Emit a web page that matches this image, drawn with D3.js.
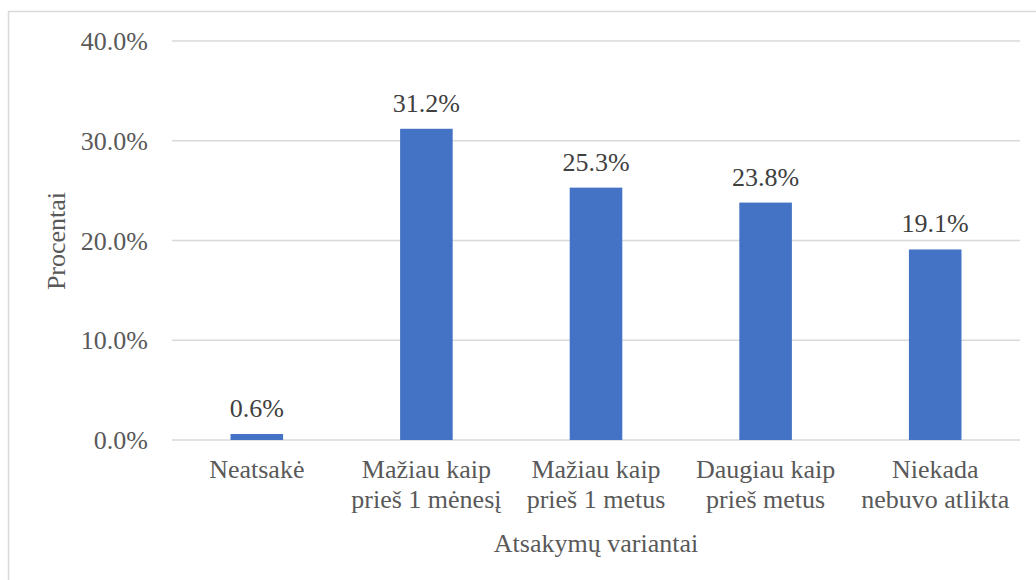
<!DOCTYPE html>
<html><head><meta charset="utf-8">
<script src="https://cdn.jsdelivr.net/npm/d3@7"></script>
<style>body{margin:0;background:#fff;}svg{display:block;}</style>
</head><body>
<svg id="c" width="1036" height="580"></svg>
<script>
const categories = [["Neatsakė"],["Mažiau kaip","prieš 1 mėnesį"],["Mažiau kaip","prieš 1 metus"],["Daugiau kaip","prieš metus"],["Niekada","nebuvo atlikta"]];
const values = [0.6, 31.2, 25.3, 23.8, 19.1];
const yTicks = [0, 10, 20, 30, 40];
const yTitle = "Procentai";
const xTitle = "Atsakymų variantai";

(function(){
const svg = d3.select("#c");
const fs = "26px";
const ff = "Liberation Serif";
const txt = "#595959";
svg.append("rect").attr("x",8.5).attr("y",11.5).attr("width",1040).attr("height",600)
  .attr("fill","#fff").attr("stroke","#d9d9d9").attr("stroke-width",1.5);

const pL=172, pR=1020, pT=41, pB=440;
const x = d3.scaleBand().domain(d3.range(values.length)).range([pL,pR]).paddingInner(0.69).paddingOuter(0.345);
const y = d3.scaleLinear().domain([0,40]).range([pB,pT]);

function label(str, px, py, anchor, color){
  return svg.append("text").attr("x",px).attr("y",py).attr("text-anchor",anchor)
    .style("font-family",ff).style("font-size",fs).attr("fill",color||txt).text(str);
}

yTicks.forEach(t=>{
  svg.append("line").attr("x1",pL).attr("x2",pR).attr("y1",y(t)).attr("y2",y(t))
    .attr("stroke","#d9d9d9").attr("stroke-width",1.5);
  label(d3.format(".1f")(t)+"%", 148, y(t)+9, "end");
});

values.forEach((v,i)=>{
  svg.append("rect").attr("x",x(i)).attr("width",x.bandwidth())
    .attr("y",y(v)).attr("height",y(0)-y(v)).attr("fill","#4472C4");
  label(d3.format(".1f")(v)+"%", x(i)+x.bandwidth()/2, y(v)-17, "middle", "#404040");
  categories[i].forEach((s,j)=>label(s, x(i)+x.bandwidth()/2, 478+j*30, "middle"));
});

label(xTitle, 596, 552, "middle");
svg.append("text").attr("transform","translate(65,241) rotate(-90)").attr("text-anchor","middle")
  .style("font-family",ff).style("font-size",fs).attr("fill",txt).text(yTitle);
})();
</script>
</body></html>
